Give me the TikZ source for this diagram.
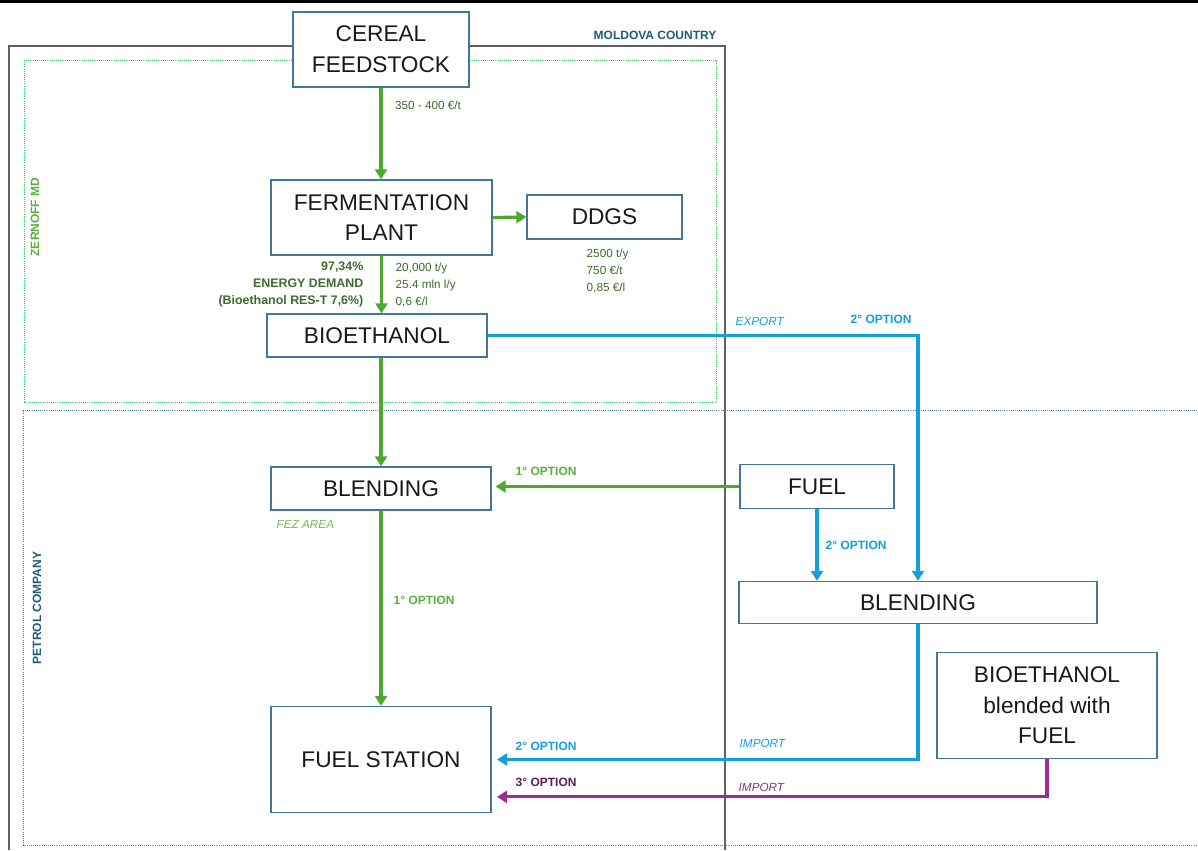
\documentclass[tikz,border=0pt]{standalone}
\usepackage{fontspec}
\setmainfont{Liberation Sans}
\usetikzlibrary{arrows.meta}

\definecolor{boxblue}{HTML}{41789A}
\definecolor{arrgreen}{HTML}{4EA72E}
\definecolor{tgreen}{HTML}{5AAF3C}
\definecolor{dgreen}{HTML}{3E6B30}
\definecolor{arrblue}{HTML}{159FD8}
\definecolor{arrpurple}{HTML}{A02B93}
\definecolor{dpurple}{HTML}{5A1E50}
\definecolor{mpurple}{HTML}{7E3A73}
\definecolor{areateal}{HTML}{1F5C78}
\definecolor{dotgreen}{HTML}{3CC36E}
\definecolor{dotteal}{HTML}{4F819C}

\begin{document}
\begin{tikzpicture}[x=0.75pt,y=-0.75pt,
	box/.style={draw=boxblue,line width=1pt,fill=white,inner sep=0pt,align=center,
		text=black!90,font=\fontsize{17}{23}\selectfont},
	flow/.style={line width=2.4pt,-{Triangle[length=7.5pt,width=9pt]}},
	tag/.style={font=\bfseries\fontsize{9}{11}\selectfont},
	data/.style={text=dgreen,font=\fontsize{8.8}{12.75}\selectfont}]
\useasboundingbox (0,0) rectangle (1198,850);

% areas
\draw[line width=2.5pt] (0,1) -- (1198,1);
\draw[black!62,line width=1.6pt] (9,850) -- (9,46) -- (725,46) -- (725,850);
\draw[dotgreen,densely dotted,line width=0.6pt] (24,60) rectangle (716,402);
\draw[dotteal,densely dotted,line width=0.6pt] (1210,410) -- (23,410) -- (23,845) -- (1210,845);
\path (655,35) node[tag,text=areateal]{MOLDOVA COUNTRY}
	(35,217) node[tag,text=tgreen,rotate=90]{ZERNOFF MD}
	(37,608) node[tag,text=areateal,rotate=90]{PETROL COMPANY};

% boxes
\path (381,49.5) node[box,minimum width=132pt,minimum height=56.25pt](cf){CEREAL\\FEEDSTOCK}
	(381.5,217.5) node[box,minimum width=165.75pt,minimum height=56.25pt](fp){FERMENTATION\\PLANT}
	(604.5,217) node[box,minimum width=116.25pt,minimum height=33pt](dd){DDGS}
	(377,335.5) node[box,minimum width=165pt,minimum height=32.25pt](bio){BIOETHANOL}
	(381,488.5) node[box,minimum width=165pt,minimum height=32.25pt](bl1){BLENDING}
	(817,486.5) node[box,minimum width=115.5pt,minimum height=33pt](fu){FUEL}
	(918,602.5) node[box,minimum width=268.5pt,minimum height=31.5pt](bl2){BLENDING}
	(381,759.5) node[box,minimum width=165pt,minimum height=79.5pt](fs){FUEL STATION}
	(1047,705.5) node[box,minimum width=165pt,minimum height=79.5pt](mix){BIOETHANOL\\blended with\\FUEL};

% green flows
\draw[flow,arrgreen] (cf.south) -- (cf.south |- fp.north)
	node[data,midway,anchor=west,yshift=21pt,xshift=6pt]{350 - 400 €/t};
\draw[flow,arrgreen] (fp.east) -- (dd.west);
\draw[flow,arrgreen] (fp.south) -- (fp.south |- bio.north);
\draw[flow,arrgreen] (bl1.north |- bio.south) -- (bl1.north);
\draw[flow,arrgreen] (bl1.south) -- (fs.north)
	node[tag,text=tgreen,pos=0.46,right,xshift=5pt]{1° OPTION};
\draw[flow,arrgreen] (fu.west) -- ([xshift=3pt]fu.west -| bl1.east);

\path (368,284.5) node[data,anchor=east,align=right,font=\bfseries\fontsize{9.3}{12.75}\selectfont]
		{97,34\%\\ENERGY DEMAND\\(Bioethanol RES-T 7,6\%)}
	(391,284.5) node[data,anchor=west,align=left]{20,000 t/y\\25.4 mln l/y\\0,6 €/l}
	(582,271) node[data,anchor=west,align=left]{2500 t/y\\750 €/t\\0,85 €/l}
	(272,524) node[anchor=west,text=tgreen!85,font=\itshape\fontsize{8.8}{10}\selectfont]{FEZ AREA}
	(511,471) node[tag,anchor=west,text=tgreen]{1° OPTION};

% blue flows
\draw[flow,arrblue] (bio.east) -| (bl2.north);
\draw[flow,arrblue] (fu.south) -- (fu.south |- bl2.north)
	node[tag,midway,right,xshift=2pt]{2° OPTION};
\draw[flow,arrblue] (bl2.south) |- ([xshift=4pt]fs.east);
\path (731,321) node[anchor=west,text=arrblue,font=\itshape\fontsize{8.8}{10}\selectfont]{EXPORT}
	(846,319.5) node[tag,anchor=west,text=arrblue]{2° OPTION}
	(511,746) node[tag,anchor=west,text=arrblue]{2° OPTION}
	(735,743.5) node[anchor=west,text=arrblue,font=\itshape\fontsize{8.8}{10}\selectfont]{IMPORT};

% purple flow
\draw[flow,arrpurple] (mix.south) |- ([xshift=4pt,yshift=-28pt]fs.east);
\path (511,782) node[tag,anchor=west,text=dpurple]{3° OPTION}
	(734,787) node[anchor=west,text=mpurple,font=\itshape\fontsize{8.8}{10}\selectfont]{IMPORT};
\end{tikzpicture}
\end{document}
